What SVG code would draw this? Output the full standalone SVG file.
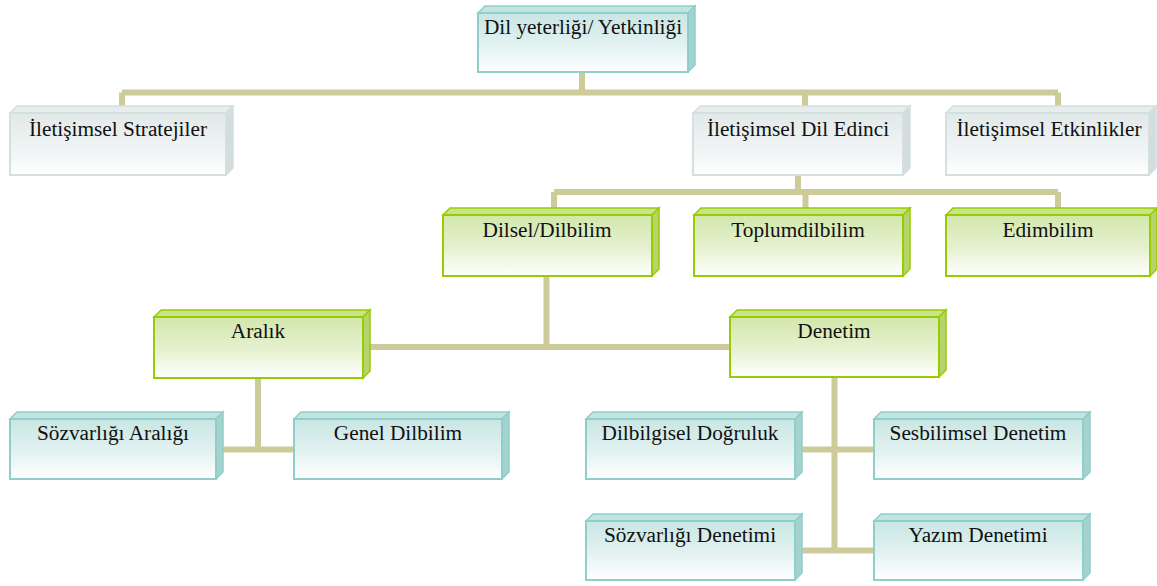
<svg xmlns="http://www.w3.org/2000/svg" width="1157" height="586" viewBox="0 0 1157 586" font-family="'Liberation Serif', 'Times New Roman', serif">
<defs>
<linearGradient id="gTeal" x1="0" y1="0" x2="0" y2="1">
<stop offset="0" stop-color="#c8e6e4"/><stop offset="0.55" stop-color="#e3f2f1"/><stop offset="1" stop-color="#ffffff"/>
</linearGradient>
<linearGradient id="gGreen" x1="0" y1="0" x2="0" y2="1">
<stop offset="0" stop-color="#d2e7ab"/><stop offset="0.55" stop-color="#e6f1d0"/><stop offset="1" stop-color="#ffffff"/>
</linearGradient>
<linearGradient id="gGrey" x1="0" y1="0" x2="0" y2="1">
<stop offset="0" stop-color="#e2e9e9"/><stop offset="0.6" stop-color="#f0f4f4"/><stop offset="1" stop-color="#ffffff"/>
</linearGradient>
</defs>
<style>
.c{stroke:#cdcb99;stroke-width:6;fill:none;stroke-linecap:butt}
.t{font-size:21.3px;fill:#111;text-anchor:middle}
.teal .f{fill:url(#gTeal);stroke:#8ecfc9;stroke-width:2}
.teal .tp{fill:#c3e3e0;stroke:#8ecfc9;stroke-width:1.5}
.teal .sd{fill:#a6d2ce;stroke:#8ecfc9;stroke-width:1.5}
.green .f{fill:url(#gGreen);stroke:#99cc00;stroke-width:2}
.green .tp{fill:#c9e38c;stroke:#99cc00;stroke-width:1.5}
.green .sd{fill:#b6d46e;stroke:#99cc00;stroke-width:1.5}
.grey .f{fill:url(#gGrey);stroke:#d4dfdf;stroke-width:2}
.grey .tp{fill:#e7eded;stroke:#d4dfdf;stroke-width:1.5}
.grey .sd{fill:#d3dddd;stroke:#d4dfdf;stroke-width:1.5}
</style>
<g id="connectors">
<path class="c" d="M582,72V93 M122,92.5H1058 M122,92.5V108 M805,92.5V108 M1058,92.5V108"/>
<path class="c" d="M798,175V192 M554,192H1058 M554,192V210 M805.5,192V210 M1058,192V210"/>
<path class="c" d="M546.5,276V347 M370,347H731"/>
<path class="c" d="M258,378V449.5 M216,449.5H294"/>
<path class="c" d="M834.5,377V553 M795,449.5H874 M795,550.5H874"/>
</g>
<g id="n-top" class="teal">
<polygon class="tp" points="478,13 485,6 695,6 688,13"/>
<polygon class="sd" points="688,13 695,6 695,65 688,72"/>
<rect class="f" x="478" y="13" width="210" height="59"/>
<text class="t" x="583" y="34">Dil yeterliği/ Yetkinliği</text>
</g>
<g id="n-strat" class="grey">
<polygon class="tp" points="10,113 17,106 233,106 226,113"/>
<polygon class="sd" points="226,113 233,106 233,168 226,175"/>
<rect class="f" x="10" y="113" width="216" height="62"/>
<text class="t" x="118" y="136">İletişimsel Stratejiler</text>
</g>
<g id="n-edinci" class="grey">
<polygon class="tp" points="693,113 700,106 910,106 903,113"/>
<polygon class="sd" points="903,113 910,106 910,168 903,175"/>
<rect class="f" x="693" y="113" width="210" height="62"/>
<text class="t" x="798" y="136">İletişimsel Dil Edinci</text>
</g>
<g id="n-etkin" class="grey">
<polygon class="tp" points="946,113 953,106 1156,106 1149,113"/>
<polygon class="sd" points="1149,113 1156,106 1156,168 1149,175"/>
<rect class="f" x="946" y="113" width="203" height="62"/>
<text class="t" x="1049" y="136">İletişimsel Etkinlikler</text>
</g>
<g id="n-dilsel" class="green">
<polygon class="tp" points="443,215 450,208 659,208 652,215"/>
<polygon class="sd" points="652,215 659,208 659,269 652,276"/>
<rect class="f" x="443" y="215" width="209" height="61"/>
<text class="t" x="547" y="237">Dilsel/Dilbilim</text>
</g>
<g id="n-toplum" class="green">
<polygon class="tp" points="694,215 701,208 910,208 903,215"/>
<polygon class="sd" points="903,215 910,208 910,269 903,276"/>
<rect class="f" x="694" y="215" width="209" height="61"/>
<text class="t" x="798" y="237">Toplumdilbilim</text>
</g>
<g id="n-edim" class="green">
<polygon class="tp" points="946,215 953,208 1157,208 1150,215"/>
<polygon class="sd" points="1150,215 1157,208 1157,269 1150,276"/>
<rect class="f" x="946" y="215" width="204" height="61"/>
<text class="t" x="1048" y="237">Edimbilim</text>
</g>
<g id="n-aralik" class="green">
<polygon class="tp" points="154,317 161,310 370,310 363,317"/>
<polygon class="sd" points="363,317 370,310 370,371 363,378"/>
<rect class="f" x="154" y="317" width="209" height="61"/>
<text class="t" x="258" y="338">Aralık</text>
</g>
<g id="n-denetim" class="green">
<polygon class="tp" points="730,317 737,310 946,310 939,317"/>
<polygon class="sd" points="939,317 946,310 946,370 939,377"/>
<rect class="f" x="730" y="317" width="209" height="60"/>
<text class="t" x="834" y="338">Denetim</text>
</g>
<g id="n-sozar" class="teal">
<polygon class="tp" points="10,419 17,412 223,412 216,419"/>
<polygon class="sd" points="216,419 223,412 223,472 216,479"/>
<rect class="f" x="10" y="419" width="206" height="60"/>
<text class="t" x="113" y="440">Sözvarlığı Aralığı</text>
</g>
<g id="n-genel" class="teal">
<polygon class="tp" points="294,419 301,412 509,412 502,419"/>
<polygon class="sd" points="502,419 509,412 509,472 502,479"/>
<rect class="f" x="294" y="419" width="208" height="60"/>
<text class="t" x="398" y="440">Genel Dilbilim</text>
</g>
<g id="n-dilbilgisel" class="teal">
<polygon class="tp" points="586,419 593,412 802,412 795,419"/>
<polygon class="sd" points="795,419 802,412 802,472 795,479"/>
<rect class="f" x="586" y="419" width="209" height="60"/>
<text class="t" x="690" y="440">Dilbilgisel Doğruluk</text>
</g>
<g id="n-sesbil" class="teal">
<polygon class="tp" points="874,419 881,412 1090,412 1083,419"/>
<polygon class="sd" points="1083,419 1090,412 1090,472 1083,479"/>
<rect class="f" x="874" y="419" width="209" height="60"/>
<text class="t" x="978" y="440">Sesbilimsel Denetim</text>
</g>
<g id="n-sozden" class="teal">
<polygon class="tp" points="586,521 593,514 802,514 795,521"/>
<polygon class="sd" points="795,521 802,514 802,573 795,580"/>
<rect class="f" x="586" y="521" width="209" height="59"/>
<text class="t" x="690" y="542">Sözvarlığı Denetimi</text>
</g>
<g id="n-yazim" class="teal">
<polygon class="tp" points="874,521 881,514 1090,514 1083,521"/>
<polygon class="sd" points="1083,521 1090,514 1090,573 1083,580"/>
<rect class="f" x="874" y="521" width="209" height="59"/>
<text class="t" x="978" y="542">Yazım Denetimi</text>
</g>
</svg>
